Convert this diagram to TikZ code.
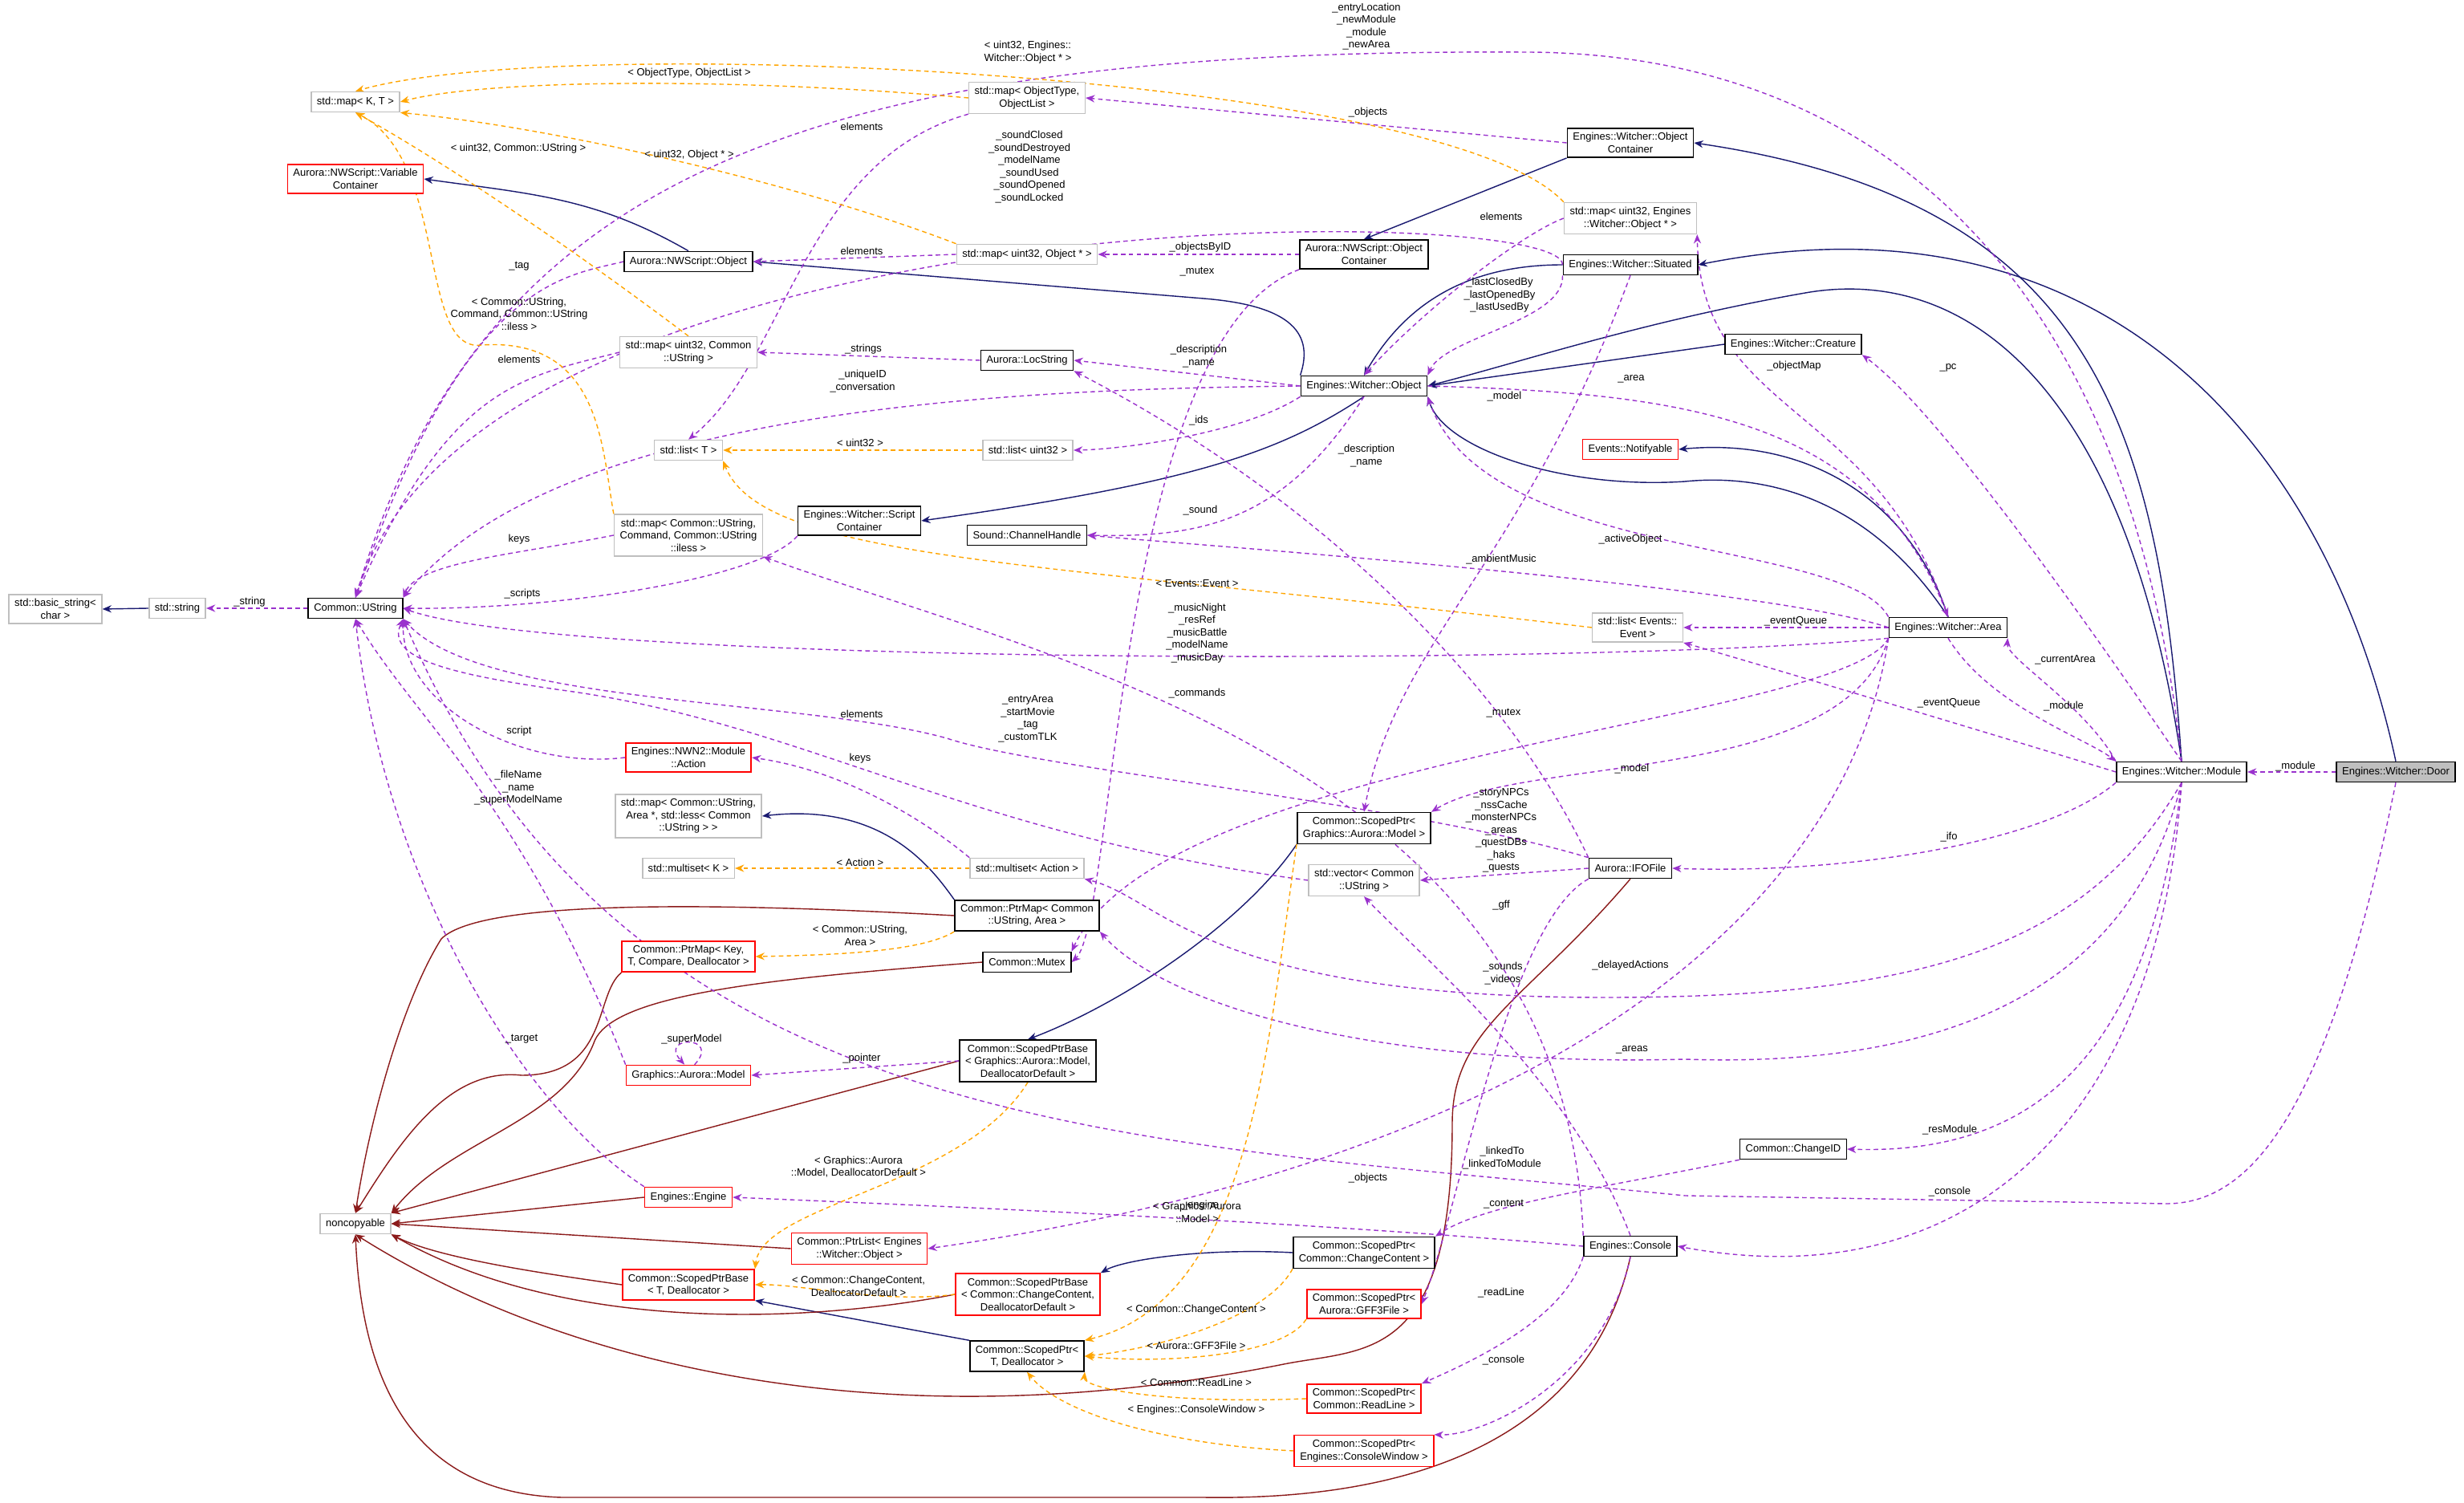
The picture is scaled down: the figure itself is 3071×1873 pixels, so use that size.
\documentclass[tikz,border=0pt]{standalone}
\usepackage{fontspec}
\setmainfont{Liberation Sans}
\usetikzlibrary{arrows.meta}
\pgfdeclarelayer{bg}
\pgfsetlayers{bg,main}
\definecolor{cpur}{HTML}{9A32CD}
\definecolor{corg}{HTML}{FFA500}
\definecolor{cblu}{HTML}{191970}
\definecolor{cred}{HTML}{8B1A1A}
\definecolor{cgry}{HTML}{BFBFBF}
\begin{document}
\begin{tikzpicture}[x=0.01cm,y=-0.01cm,
  every node/.style={font=\fontsize{3.7}{4.4}\selectfont},
  bx/.style={draw,line width=0.45pt,align=center,inner xsep=2pt,inner ysep=1.6pt,minimum height=0.25cm,fill=white},
  gbox/.style={bx,draw=cgry},
  rbox/.style={bx,draw=red},
  kbox/.style={bx,draw=black},
  lb/.style={align=center,inner sep=0.5pt},
  tip/.style={-{Stealth[length=3.2pt,width=2.6pt]}},
  inh/.style={tip,draw=cblu,line width=0.4pt},
  ncp/.style={tip,draw=cred,line width=0.4pt},
  use/.style={tip,draw=cpur,dash pattern=on 1.6pt off 1.2pt,line width=0.4pt},
  tpl/.style={tip,draw=corg,dash pattern=on 1.6pt off 1.2pt,line width=0.4pt}]
\useasboundingbox (0,0) rectangle (3071,1873);
% ---- nodes
\node[gbox] (mapKT) at (443,127) {std::map< K, T >};
\node[rbox] (varc) at (443,223) {Aurora::NWScript::Variable\\Container};
\node[kbox] (nwobj) at (858,326) {Aurora::NWScript::Object};
\node[gbox] (mapU32U) at (858,439) {std::map< uint32, Common\\::UString >};
\node[gbox] (listT) at (858,561) {std::list< T >};
\node[gbox] (mapCmd) at (858,667) {std::map< Common::UString,\\Command, Common::UString\\::iless >};
\node[gbox] (basicstr) at (69,759) {std::basic\_string<\\char >};
\node[gbox] (stdstr) at (221,758) {std::string};
\node[kbox] (ustr) at (443,758) {Common::UString};
\node[rbox] (action) at (858,944) {Engines::NWN2::Module\\::Action};
\node[gbox] (mapArea) at (858,1017) {std::map< Common::UString,\\Area *, std::less< Common\\::UString > >};
\node[gbox] (msetK) at (858,1082) {std::multiset< K >};
\node[rbox] (ptrmapK) at (858,1192) {Common::PtrMap< Key,\\T, Compare, Deallocator >};
\node[rbox] (model) at (858,1340) {Graphics::Aurora::Model};
\node[rbox] (engine) at (858,1492) {Engines::Engine};
\node[gbox] (noncopy) at (443,1525) {noncopyable};
\node[rbox] (spbT) at (858,1601) {Common::ScopedPtrBase\\< T, Deallocator >};
\node[gbox] (mapOT) at (1280,122) {std::map< ObjectType,\\ObjectList >};
\node[gbox] (mapU32O) at (1280,317) {std::map< uint32, Object * >};
\node[kbox] (nwoc) at (1700,317) {Aurora::NWScript::Object\\Container};
\node[kbox] (woc) at (2032,178) {Engines::Witcher::Object\\Container};
\node[gbox] (mapU32W) at (2032,272) {std::map< uint32, Engines\\::Witcher::Object * >};
\node[kbox] (situated) at (2032,330) {Engines::Witcher::Situated};
\node[kbox] (locstr) at (1280,449) {Aurora::LocString};
\node[kbox] (wobj) at (1700,481) {Engines::Witcher::Object};
\node[gbox] (listU32) at (1281,561) {std::list< uint32 >};
\node[kbox] (scriptc) at (1071,649) {Engines::Witcher::Script\\Container};
\node[kbox] (sound) at (1280,667) {Sound::ChannelHandle};
\node[rbox] (notif) at (2032,560) {Events::Notifyable};
\node[gbox] (listEv) at (2041,782) {std::list< Events::\\Event >};
\node[kbox] (creature) at (2235,429) {Engines::Witcher::Creature};
\node[kbox] (area) at (2428,782) {Engines::Witcher::Area};
\node[kbox] (module) at (2719,962) {Engines::Witcher::Module};
\node[kbox,fill=cgry] (door) at (2986,962) {Engines::Witcher::Door};
\node[kbox] (ifo) at (2032,1082) {Aurora::IFOFile};
\node[kbox] (changeid) at (2235,1432) {Common::ChangeID};
\node[kbox] (console) at (2032,1553) {Engines::Console};
\node[gbox] (msetA) at (1280,1082) {std::multiset< Action >};
\node[kbox] (ptrmapA) at (1280,1141) {Common::PtrMap< Common\\::UString, Area >};
\node[kbox] (mutex) at (1280,1199) {Common::Mutex};
\node[kbox] (spModel) at (1700,1032) {Common::ScopedPtr<\\Graphics::Aurora::Model >};
\node[gbox] (vecU) at (1700,1097) {std::vector< Common\\::UString >};
\node[kbox] (spbModel) at (1281,1322) {Common::ScopedPtrBase\\< Graphics::Aurora::Model,\\DeallocatorDefault >};
\node[rbox] (ptrlist) at (1071,1556) {Common::PtrList< Engines\\::Witcher::Object >};
\node[rbox] (spbCC) at (1281,1613) {Common::ScopedPtrBase\\< Common::ChangeContent,\\DeallocatorDefault >};
\node[kbox] (spCC) at (1700,1561) {Common::ScopedPtr<\\Common::ChangeContent >};
\node[rbox] (spGFF) at (1700,1625) {Common::ScopedPtr<\\Aurora::GFF3File >};
\node[kbox] (spT) at (1280,1690) {Common::ScopedPtr<\\T, Deallocator >};
\node[rbox] (spRL) at (1700,1743) {Common::ScopedPtr<\\Common::ReadLine >};
\node[rbox] (spCW) at (1700,1808) {Common::ScopedPtr<\\Engines::ConsoleWindow >};
\begin{pgfonlayer}{bg}
\fill[white] (0,0) rectangle (3071,1873);
% ---- inheritance
\draw[inh] (nwobj.north) to[out=150,in=-8] (varc.east);
\draw[inh] (wobj.north west) .. controls (1640,410) and (1600,380) .. (1500,372) -- (nwobj.east);
\draw[inh] (wobj.south) .. controls (1600,560) and (1500,600) .. (scriptc.east);
\draw[inh] (situated.west) to[out=180,in=60] (wobj.north);
\draw[inh] (creature.west) -- (wobj.east);
\draw[inh] (area.north) .. controls (2330,620) and (2200,590) .. (2100,600) .. controls (1950,610) and (1800,560) .. (wobj.south east);
\draw[inh] (area.north) .. controls (2380,620) and (2250,545) .. (notif.east);
\draw[inh] (module.north) .. controls (2650,480) and (2450,330) .. (2250,365) .. controls (2050,400) and (1900,450) .. (wobj.east);
\draw[inh] (module.north) .. controls (2690,520) and (2600,250) .. (woc.east);
\draw[inh] (woc.south west) -- (nwoc.north);
\draw[inh] (door.north) .. controls (2900,550) and (2620,230) .. (situated.east);
\draw[inh] (stdstr.west) -- (basicstr.east);
\draw[inh] (ptrmapA.north west) .. controls (1160,1080) and (1100,1000) .. (mapArea.east);
\draw[inh] (spModel.south west) .. controls (1550,1150) and (1400,1250) .. (spbModel.north);
\draw[inh] (spCC.west) .. controls (1500,1555) and (1400,1570) .. (spbCC.north east);
\draw[inh] (spT.north west) -- (spbT.south east);
% ---- noncopyable
\draw[ncp] (ptrmapK.south west) .. controls (740,1240) and (760,1340) .. (650,1340) .. controls (560,1330) and (500,1420) .. (noncopy.north);
\draw[ncp] (ptrmapA.west) .. controls (900,1125) and (600,1120) .. (550,1170) .. controls (500,1250) and (460,1400) .. (noncopy.north);
\draw[ncp] (mutex.west) .. controls (950,1220) and (760,1240) .. (740,1300) .. controls (700,1400) and (560,1420) .. (noncopy.north east);
\draw[ncp] (spbModel.west) -- (noncopy.north east);
\draw[ncp] (engine.west) -- (noncopy.east);
\draw[ncp] (ptrlist.west) -- (noncopy.east);
\draw[ncp] (spbT.west) .. controls (700,1590) and (550,1570) .. (noncopy.south east);
\draw[ncp] (spbCC.west) .. controls (1000,1650) and (700,1660) .. (noncopy.south east);
\draw[ncp] (ifo.south) .. controls (1900,1250) and (1810,1280) .. (1810,1400) .. controls (1810,1700) and (1700,1680) .. (1600,1700) .. controls (1100,1800) and (700,1700) .. (noncopy.south);
\draw[ncp] (console.south) .. controls (1980,1800) and (1750,1870) .. (1500,1866) -- (700,1866) .. controls (500,1860) and (450,1700) .. (noncopy.south);
% ---- usage
\draw[use] (ustr.west) -- (stdstr.east);
\draw[use] (nwobj.west) .. controls (700,345) and (580,350) .. (ustr.north);
\draw[use] (mapU32U.west) .. controls (650,470) and (560,480) .. (ustr.north);
\draw[use] (mapCmd.west) .. controls (650,690) and (520,700) .. (ustr.north east);
\draw[use] (scriptc.south west) .. controls (950,720) and (700,760) .. (ustr.east);
\draw[use] (wobj.west) .. controls (1300,485) and (700,500) .. (ustr.north east);
\draw[use] (situated.west) .. controls (1950,250) and (600,240) .. (ustr.north);
\draw[use] (mapU32O.west) -- (nwobj.east);
\draw[use] (nwoc.west) -- (mapU32O.east);
\draw[use] (woc.west) -- (mapOT.east);
\draw[use] (mapOT.south west) .. controls (1000,200) and (980,450) .. (listT.north);
\draw[use] (mapU32W.west) .. controls (1900,290) and (1780,380) .. (wobj.north);
\draw[use] (wobj.west) -- (locstr.east);
\draw[use] (wobj.south west) .. controls (1550,540) and (1400,560) .. (listU32.east);
\draw[use] (wobj.south) .. controls (1600,650) and (1500,670) .. (sound.east);
\draw[use] (situated.south west) .. controls (1950,400) and (1800,420) .. (wobj.north east);
\draw[use] (situated.south) .. controls (1900,700) and (1740,800) .. (spModel.north);
\draw[use] (nwoc.south west) .. controls (1390,420) and (1390,1150) .. (mutex.east);
\draw[use] (locstr.west) -- (mapU32U.east);
\draw[use] (wobj.east) .. controls (2100,490) and (2330,520) .. (area.north);
\draw[use] (area.north) .. controls (2340,500) and (2120,520) .. (mapU32W.south east);
\draw[use] (area.north west) .. controls (2300,670) and (1850,700) .. (wobj.south east);
\draw[use] (area.west) .. controls (2200,730) and (1500,680) .. (sound.east);
\draw[use] (area.west) -- (listEv.east);
\draw[use] (area.south west) .. controls (2000,830) and (700,830) .. (ustr.east);
\draw[use] (area.south west) .. controls (2300,900) and (1450,940) .. (mutex.north east);
\draw[use] (area.south west) .. controls (2300,980) and (1900,940) .. (spModel.north east);
\draw[use] (area.south) .. controls (2480,880) and (2600,920) .. (module.north west);
\draw[use] (module.north west) .. controls (2600,880) and (2500,820) .. (area.south east);
\draw[use] (module.north) .. controls (2550,700) and (2400,500) .. (creature.south east);
\draw[use] (module.west) .. controls (2500,920) and (2200,830) .. (listEv.south east);
\draw[use] (module.south west) .. controls (2550,1050) and (2300,1090) .. (ifo.east);
\draw[use] (module.south) .. controls (2600,1180) and (2400,1243) .. (2000,1243) .. controls (1500,1243) and (1450,1120) .. (msetA.south east);
\draw[use] (module.south) .. controls (2650,1250) and (2400,1330) .. (2100,1320) .. controls (1700,1330) and (1450,1250) .. (ptrmapA.south east);
\draw[use] (module.south) .. controls (2680,1300) and (2550,1440) .. (changeid.east);
\draw[use] (module.south) .. controls (2690,1400) and (2450,1620) .. (console.east);
\draw[use] (door.west) -- (module.east);
\draw[use] (module.north) .. controls (2650,300) and (2300,65) .. (1900,65) .. controls (1000,60) and (600,220) .. (ustr.north);
\draw[use] (door.south) .. controls (2900,1400) and (2800,1500) .. (2700,1500) -- (2100,1490) .. controls (1400,1420) and (780,1420) .. (ustr.south east);
\draw[use] (ifo.north west) .. controls (1900,900) and (1700,650) .. (locstr.south east);
\draw[use] (ifo.west) -- (vecU.east);
\draw[use] (ifo.south west) .. controls (1880,1150) and (1820,1500) .. (spGFF.east);
\draw[use] (ifo.north west) .. controls (1750,1000) and (1300,960) .. (1180,920) .. controls (1000,870) and (600,880) .. (ustr.south east);
\draw[use] (console.north west) .. controls (1950,950) and (1300,820) .. (mapCmd.south east);
\draw[use] (console.north) .. controls (1960,1350) and (1780,1200) .. (vecU.south);
\draw[use] (console.west) .. controls (1600,1520) and (1100,1500) .. (engine.east);
\draw[use] (console.south west) .. controls (1950,1640) and (1850,1690) .. (spRL.north east);
\draw[use] (console.south) .. controls (2000,1720) and (1850,1790) .. (spCW.north east);
\draw[use] (changeid.south west) .. controls (2000,1480) and (1850,1500) .. (spCC.north east);
\draw[use] (area.south west) .. controls (2300,1150) and (1900,1450) .. (ptrlist.east);
\draw[use] (engine.north west) .. controls (650,1380) and (480,1100) .. (ustr.south);
\draw[use] (model.north west) .. controls (650,1000) and (520,900) .. (ustr.south);
\draw[use] (model.60) .. controls (900,1290) and (820,1290) .. (model.110);
\draw[use] (spbModel.west) -- (model.east);
\draw[use] (action.west) .. controls (650,960) and (500,880) .. (ustr.south east);
\draw[use] (msetA.north west) .. controls (1150,1020) and (1050,960) .. (action.east);
\draw[use] (vecU.west) .. controls (1200,1040) and (1000,900) .. (700,860) .. controls (560,840) and (480,820) .. (ustr.south east);
% ---- templates
\draw[tpl] (mapOT.west) .. controls (900,95) and (600,100) .. (mapKT.east);
\draw[tpl] (mapU32W.north west) .. controls (1800,90) and (700,40) .. (mapKT.north);
\draw[tpl] (mapU32O.north west) .. controls (1000,230) and (700,160) .. (mapKT.south east);
\draw[tpl] (mapU32U.north) .. controls (700,300) and (550,200) .. (mapKT.south);
\draw[tpl] (mapCmd.north west) .. controls (750,560) and (750,420) .. (600,430) .. controls (520,440) and (560,200) .. (mapKT.south);
\draw[tpl] (listU32.west) -- (listT.east);
\draw[tpl] (listEv.west) .. controls (1300,700) and (950,700) .. (listT.south east);
\draw[tpl] (msetA.west) -- (msetK.east);
\draw[tpl] (ptrmapA.south west) .. controls (1150,1185) and (1050,1190) .. (ptrmapK.east);
\draw[tpl] (spbModel.south) .. controls (1200,1480) and (950,1500) .. (spbT.north east);
\draw[tpl] (spbCC.west) .. controls (1100,1625) and (1000,1600) .. (spbT.east);
\draw[tpl] (spModel.south west) .. controls (1580,1300) and (1560,1620) .. (spT.north east);
\draw[tpl] (spCC.south west) .. controls (1580,1640) and (1450,1680) .. (spT.east);
\draw[tpl] (spGFF.south west) .. controls (1600,1690) and (1450,1700) .. (spT.east);
\draw[tpl] (spRL.west) .. controls (1450,1750) and (1350,1730) .. (spT.south east);
\draw[tpl] (spCW.west) .. controls (1450,1800) and (1320,1760) .. (spT.south);
\end{pgfonlayer}
% ---- labels
\node[lb] (l1) at (311,750) {\_string};
\node[lb] (l2) at (647,332) {\_tag};
\node[lb] (l3) at (646,185) {< uint32, Common::UString >};
\node[lb] (l4) at (859,193) {< uint32, Object * >};
\node[lb] (l5) at (859,91) {< ObjectType, ObjectList >};
\node[lb] (l6) at (647,391) {< Common::UString,\\Command, Common::UString\\::iless >};
\node[lb] (l7) at (647,448) {elements};
\node[lb] (l8) at (647,672) {keys};
\node[lb] (l9) at (651,740) {\_scripts};
\node[lb] (l10) at (647,911) {script};
\node[lb] (l11) at (646,982) {\_fileName\\\_name\\\_superModelName};
\node[lb] (l12) at (650,1295) {\_target};
\node[lb] (l13) at (862,1295) {\_superModel};
\node[lb] (l14) at (1703,33) {\_entryLocation\\\_newModule\\\_module\\\_newArea};
\node[lb] (l15) at (1281,65) {< uint32, Engines::\\Witcher::Object * >};
\node[lb] (l16) at (1074,158) {elements};
\node[lb] (l17) at (1705,140) {\_objects};
\node[lb] (l18) at (1283,208) {\_soundClosed\\\_soundDestroyed\\\_modelName\\\_soundUsed\\\_soundOpened\\\_soundLocked};
\node[lb] (l19) at (1074,313) {elements};
\node[lb] (l20) at (1496,308) {\_objectsByID};
\node[lb] (l21) at (1492,339) {\_mutex};
\node[lb] (l22) at (1871,270) {elements};
\node[lb] (l23) at (1869,368) {\_lastClosedBy\\\_lastOpenedBy\\\_lastUsedBy};
\node[lb] (l24) at (1076,435) {\_strings};
\node[lb] (l25) at (1075,475) {\_uniqueID\\\_conversation};
\node[lb] (l26) at (1494,444) {\_description\\\_name};
\node[lb] (l27) at (1875,494) {\_model};
\node[lb] (l28) at (2033,472) {\_area};
\node[lb] (l29) at (1494,524) {\_ids};
\node[lb] (l30) at (1072,552) {< uint32 >};
\node[lb] (l31) at (1703,568) {\_description\\\_name};
\node[lb] (l32) at (1496,636) {\_sound};
\node[lb] (l33) at (2032,672) {\_activeObject};
\node[lb] (l34) at (1871,697) {\_ambientMusic};
\node[lb] (l35) at (1492,727) {< Events::Event >};
\node[lb] (l36) at (1492,789) {\_musicNight\\\_resRef\\\_musicBattle\\\_modelName\\\_musicDay};
\node[lb] (l37) at (1492,864) {\_commands};
\node[lb] (l38) at (1874,889) {\_mutex};
\node[lb] (l39) at (1281,896) {\_entryArea\\\_startMovie\\\_tag\\\_customTLK};
\node[lb] (l40) at (1074,890) {elements};
\node[lb] (l41) at (1072,945) {keys};
\node[lb] (l42) at (2236,456) {\_objectMap};
\node[lb] (l43) at (2428,458) {\_pc};
\node[lb] (l44) at (2238,774) {\_eventQueue};
\node[lb] (l45) at (2574,822) {\_currentArea};
\node[lb] (l46) at (2429,876) {\_eventQueue};
\node[lb] (l47) at (2572,880) {\_module};
\node[lb] (l48) at (2034,958) {\_model};
\node[lb] (l49) at (2861,955) {\_module};
\node[lb] (l50) at (2429,1043) {\_ifo};
\node[lb] (l51) at (2032,1203) {\_delayedActions};
\node[lb] (l52) at (2034,1308) {\_areas};
\node[lb] (l53) at (2430,1408) {\_resModule};
\node[lb] (l54) at (2430,1485) {\_console};
\node[lb] (l55) at (1072,1075) {< Action >};
\node[lb] (l56) at (1871,1035) {\_storyNPCs\\\_nssCache\\\_monsterNPCs\\\_areas\\\_questDBs\\\_haks\\\_quests};
\node[lb] (l57) at (1871,1128) {\_gff};
\node[lb] (l58) at (1072,1166) {< Common::UString,\\Area >};
\node[lb] (l59) at (1873,1213) {\_sounds\\\_videos};
\node[lb] (l60) at (1074,1319) {\_pointer};
\node[lb] (l61) at (1070,1454) {< Graphics::Aurora\\::Model, DeallocatorDefault >};
\node[lb] (l62) at (1872,1443) {\_linkedTo\\\_linkedToModule};
\node[lb] (l63) at (1705,1468) {\_objects};
\node[lb] (l64) at (1492,1511) {< Graphics::Aurora\\::Model >};
\node[lb] (l65) at (1496,1502) {\_engine};
\node[lb] (l66) at (1874,1501) {\_content};
\node[lb] (l67) at (1070,1603) {< Common::ChangeContent,\\DeallocatorDefault >};
\node[lb] (l68) at (1871,1611) {\_readLine};
\node[lb] (l69) at (1491,1632) {< Common::ChangeContent >};
\node[lb] (l70) at (1491,1677) {< Aurora::GFF3File >};
\node[lb] (l71) at (1874,1695) {\_console};
\node[lb] (l72) at (1491,1723) {< Common::ReadLine >};
\node[lb] (l73) at (1491,1757) {< Engines::ConsoleWindow >};
\end{tikzpicture}
\end{document}
